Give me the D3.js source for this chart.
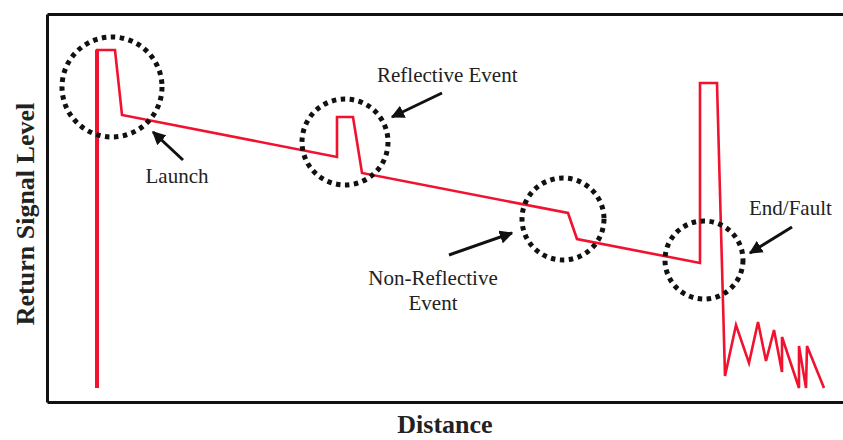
<!DOCTYPE html>
<html>
<head>
<meta charset="utf-8">
<script src="https://cdn.jsdelivr.net/npm/d3@7"></script>
<style>
  body { margin: 0; background: #fff; }
  text { font-family: "Liberation Serif", "Times New Roman", serif; fill: #222; }
</style>
</head>
<body>
<div id="chart"></div>
<script>
// OTDR trace, distance / signal level in arbitrary units
const distance = [50, 50, 68, 75, 290, 290, 306, 315, 521, 530, 653, 653, 670, 678,
  689, 702, 711, 719, 727, 735, 735, 752, 752, 759, 760, 777];
const signal = [14, 352, 352, 287, 245, 285, 285, 229, 189, 163, 139, 319, 319, 26,
  77, 39, 80, 41, 72, 30, 65, 14, 56, 14, 56, 14];

// annotated events
const eventNames = ['Launch', 'Reflective Event', 'Non-Reflective Event', 'End/Fault'];
const eventX = [65, 298, 516, 657];
const eventY = [315, 260, 183, 142];
const eventR = [50, 43, 41, 39];

// arrow tail -> tip
const arrowFrom = [[136, 242], [395, 309], [402, 147], [745, 175]];
const arrowTo = [[106, 270], [345, 285], [465, 169], [703, 149]];

const width = 843, height = 440;
const margin = { top: 14, right: 0, bottom: 38, left: 47 };

const svg = d3.select('#chart').append('svg')
  .attr('width', width)
  .attr('height', height);

const x = d3.scaleLinear().domain([0, 796]).range([margin.left, width - margin.right]);
const y = d3.scaleLinear().domain([0, 388]).range([height - margin.bottom, margin.top]);

// frame: left, bottom and top lines, no ticks
const xAxis = d3.axisBottom(x).tickValues([]).tickSizeOuter(0);
const xTop = d3.axisTop(x).tickValues([]).tickSizeOuter(0);
const yAxis = d3.axisLeft(y).tickValues([]).tickSizeOuter(0);

svg.append('g').attr('transform', `translate(0,${y(0)})`).call(xAxis);
svg.append('g').attr('transform', `translate(0,${y(388)})`).call(xTop);
svg.append('g').attr('transform', `translate(${x(0)},0)`).call(yAxis);
svg.selectAll('.domain').attr('stroke', '#111').attr('stroke-width', 3);

// trace
const pts = distance.map((d, i) => [d, signal[i]]);
const line = d3.line().x(d => x(d[0])).y(d => y(d[1]));

svg.append('path')
  .datum(pts)
  .attr('d', line)
  .attr('fill', 'none')
  .attr('stroke', '#f0122e')
  .attr('stroke-width', 2.6)
  .attr('stroke-linejoin', 'miter');

// launch pulse is drawn heavier
svg.append('path')
  .datum(pts.slice(0, 2))
  .attr('d', line)
  .attr('stroke', '#f0122e')
  .attr('stroke-width', 4);

// dotted circles
svg.selectAll('circle.ev')
  .data(eventNames).enter()
  .append('circle')
  .attr('class', 'ev')
  .attr('cx', (d, i) => x(eventX[i]))
  .attr('cy', (d, i) => y(eventY[i]))
  .attr('r', (d, i) => eventR[i])
  .attr('fill', 'none')
  .attr('stroke', '#111')
  .attr('stroke-width', 5)
  .attr('stroke-dasharray', '4.5 4.5');

// arrows
svg.append('defs').append('marker')
  .attr('id', 'head')
  .attr('viewBox', '0 0 10 10')
  .attr('refX', 9).attr('refY', 5)
  .attr('markerWidth', 4.5).attr('markerHeight', 4.5)
  .attr('orient', 'auto')
  .append('path')
  .attr('d', 'M0,0 L10,5 L0,10 Z')
  .attr('fill', '#111');

svg.selectAll('line.arrow')
  .data(arrowFrom).enter()
  .append('line')
  .attr('class', 'arrow')
  .attr('x1', d => x(d[0]))
  .attr('y1', d => y(d[1]))
  .attr('x2', (d, i) => x(arrowTo[i][0]))
  .attr('y2', (d, i) => y(arrowTo[i][1]))
  .attr('stroke', '#111')
  .attr('stroke-width', 3)
  .attr('marker-end', 'url(#head)');

// labels
const label = (txt, px, py, anchor) => svg.append('text')
  .attr('x', px).attr('y', py)
  .attr('text-anchor', anchor || 'middle')
  .attr('font-size', 21)
  .text(txt);

label('Launch', x(130), y(219));
label('Reflective Event', x(330), y(320), 'start');
label('Non-Reflective', x(386), y(117));
label('Event', x(386), y(92));
label('End/Fault', x(702), y(187), 'start');

svg.append('text')
  .attr('transform', `translate(34,214) rotate(-90)`)
  .attr('text-anchor', 'middle')
  .attr('font-size', 26)
  .attr('font-weight', 'bold')
  .text('Return Signal Level');

svg.append('text')
  .attr('x', 445)
  .attr('y', 433)
  .attr('text-anchor', 'middle')
  .attr('font-size', 26)
  .attr('font-weight', 'bold')
  .text('Distance');
</script>
</body>
</html>
